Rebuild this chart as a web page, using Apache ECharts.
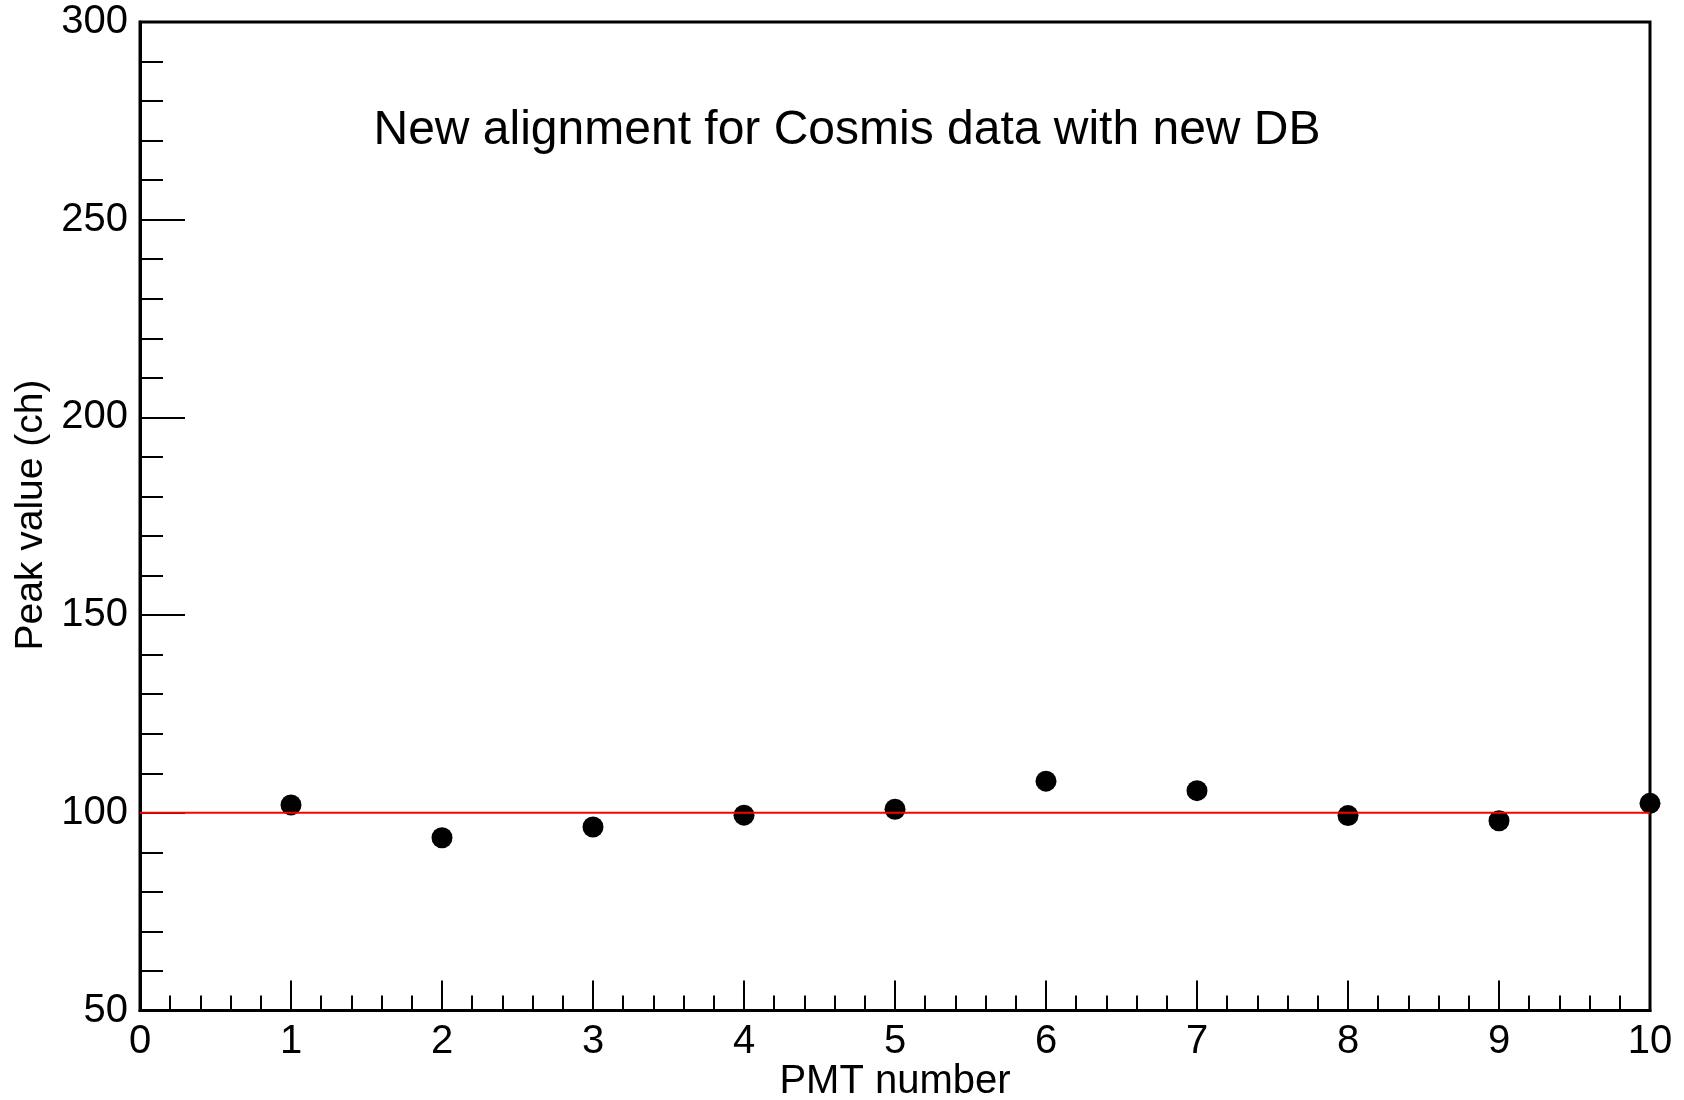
<!DOCTYPE html>
<html>
<head>
<meta charset="utf-8">
<style>
  html, body { margin: 0; padding: 0; background: #ffffff; }
  #chart { width: 1684px; height: 1100px; }
</style>
<script src="https://cdn.jsdelivr.net/npm/echarts@6/dist/echarts.min.js"></script>
</head>
<body>
<div id="chart"></div>
<script>
// ---- data ----
const pmtNumbers = [1, 2, 3, 4, 5, 6, 7, 8, 9, 10];
const peakValues = [102.0, 93.7, 96.4, 99.4, 100.9, 108.0, 105.6, 99.3, 98.0, 102.4];
const refLineX = [0, 10];
const refLineY = [100, 100];
const titleText = 'New alignment for Cosmis data with new DB';
const xAxisTitle = 'PMT number';
const yAxisTitle = 'Peak value (ch)';

const FONT = 'Liberation Sans, Arial, Helvetica, sans-serif';

const chart = echarts.init(document.getElementById('chart'), null, { renderer: 'canvas' });

const pointData = pmtNumbers.map((x, i) => [x, peakValues[i]]);
const lineData = refLineX.map((x, i) => [x, refLineY[i]]);

const option = {
  backgroundColor: '#ffffff',
  animation: false,
  grid: {
    left: 140, top: 22, right: 34, bottom: 89.5,
    show: true, borderColor: '#000', borderWidth: 3, backgroundColor: 'transparent'
  },
  xAxis: {
    type: 'value', min: 0, max: 10, interval: 1,
    axisLine: { show: true, onZero: false, lineStyle: { color: '#000', width: 3 } },
    axisTick: { show: true, inside: true, length: 30, lineStyle: { color: '#000', width: 2 } },
    minorTick: { show: true, splitNumber: 5, length: 15, lineStyle: { color: '#000', width: 2 } },
    splitLine: { show: false },
    axisLabel: { color: '#000', fontSize: 40, fontFamily: FONT, margin: 11 }
  },
  yAxis: {
    type: 'value', min: 50, max: 300, interval: 50,
    axisLine: { show: true, onZero: false, lineStyle: { color: '#000', width: 3 } },
    axisTick: { show: true, inside: true, length: 45, lineStyle: { color: '#000', width: 2 } },
    minorTick: { show: true, splitNumber: 5, length: 23, lineStyle: { color: '#000', width: 2 } },
    splitLine: { show: false },
    axisLabel: { color: '#000', fontSize: 40, fontFamily: FONT, margin: 12 }
  },
  series: [
    {
      type: 'scatter',
      data: pointData,
      symbol: 'circle',
      symbolSize: 21,
      itemStyle: { color: '#000', opacity: 1 },
      clip: false,
      z: 2
    },
    {
      type: 'line',
      data: lineData,
      showSymbol: false,
      symbol: 'none',
      lineStyle: { color: '#ff0000', width: 2 },
      z: 3
    }
  ],
  graphic: [
    {
      type: 'text',
      x: 847, y: 131,
      style: {
        text: titleText, fill: '#000',
        font: '48px ' + FONT,
        textAlign: 'center', textVerticalAlign: 'middle'
      }
    },
    {
      type: 'text',
      x: 895, y: 1082,
      style: {
        text: xAxisTitle, fill: '#000',
        font: '40px ' + FONT,
        textAlign: 'center', textVerticalAlign: 'middle'
      }
    },
    {
      type: 'text',
      x: 31, y: 515,
      rotation: Math.PI / 2,
      style: {
        text: yAxisTitle, fill: '#000',
        font: '39px ' + FONT,
        textAlign: 'center', textVerticalAlign: 'middle'
      }
    }
  ]
};

chart.setOption(option);
</script>
</body>
</html>
